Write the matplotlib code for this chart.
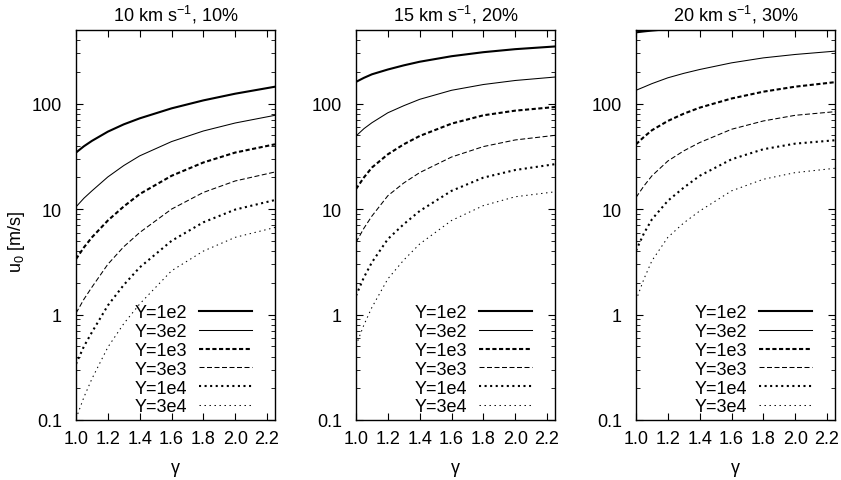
import numpy as np
import matplotlib.pyplot as plt
from matplotlib.ticker import FixedLocator, FuncFormatter, LogLocator, NullFormatter

plt.rcParams.update({'font.family': ['Liberation Sans', 'DejaVu Sans'],
                     'mathtext.fontset': 'custom',
                     'mathtext.rm': 'Liberation Sans',
                     'mathtext.it': 'Liberation Sans:italic',
                     'font.size': 13,
                     'lines.scale_dashes': False,
                     'axes.linewidth': 1.0,
                     'xtick.direction': 'in',
                     'ytick.direction': 'in',
                     'xtick.top': True,
                     'ytick.right': True,
                     'xtick.major.size': 5,
                     'ytick.major.size': 5,
                     'ytick.minor.size': 3,
                     'xtick.major.pad': 7,
                     'ytick.major.pad': 10})

gamma = [1.0, 1.05, 1.1, 1.2, 1.3, 1.4, 1.6, 1.8, 2.0, 2.25]
gamma_top = [1.0, 1.05, 1.1, 1.2]   # Y=1e2 at 20 km/s leaves the frame early

labels = ['Y=1e2', 'Y=3e2', 'Y=1e3', 'Y=3e3', 'Y=1e4', 'Y=3e4']
titles = [r'10 km s$^{-1}$, 10%', r'15 km s$^{-1}$, 20%', r'20 km s$^{-1}$, 30%']

# u0 [m/s] per panel, one row per Y
u0_10 = [
    [34.4, 39.5, 44.4, 54.3, 63.7, 72.6, 90.3, 107.5, 124.4, 144.9],
    [10.5, 12.7, 14.9, 20.2, 25.9, 32.0, 43.7, 55.1, 65.6, 77.6],
    [3.36, 4.34, 5.4, 7.8, 10.6, 13.9, 20.7, 27.7, 34.4, 41.2],
    [1.03, 1.40, 1.82, 3.0, 4.4, 6.0, 10.0, 14.4, 18.5, 22.5],
    [0.34, 0.50, 0.68, 1.22, 1.91, 2.8, 5.0, 7.5, 9.9, 12.2],
    [0.103, 0.165, 0.246, 0.49, 0.82, 1.26, 2.6, 4.0, 5.4, 6.7],
]
u0_15 = [
    [161, 176, 190, 211, 231, 250, 282, 308, 329, 349],
    [49.4, 58, 66, 82, 95.7, 110, 134, 152, 166, 179],
    [15.5, 20, 24.8, 33.1, 41.2, 49.4, 64.7, 77.6, 85.9, 93],
    [4.84, 6.6, 8.6, 13.4, 17.7, 22.2, 31.2, 39.2, 45.3, 50.1],
    [1.51, 2.26, 3.13, 5.2, 7.2, 9.6, 14.9, 19.9, 23.5, 26.7],
    [0.51, 0.80, 1.17, 2.18, 3.29, 4.67, 7.8, 10.8, 13.1, 14.6],
]
u0_20 = [
    [475, 485, 494, 510],
    [134, 144, 155, 176, 194, 211, 244, 272, 293, 315],
    [41.2, 48.4, 56, 68.6, 80.4, 91.7, 112, 130, 145, 160],
    [12.9, 16.6, 20.7, 28.6, 35.7, 42.8, 57.2, 68.6, 77.6, 84],
    [4.04, 5.9, 8.0, 12.0, 16.0, 20.7, 29.7, 37, 41.8, 45],
    [1.36, 2.18, 3.24, 5.4, 7.4, 9.6, 14.9, 19.2, 22.2, 24.4],
]

styles = [dict(lw=1.5, ls='-'),
          dict(lw=0.75, ls='-'),
          dict(lw=1.5, ls=(0, (3.0, 1.8))),
          dict(lw=0.75, ls=(0, (3.6, 1.8))),
          dict(lw=1.5, ls=(0, (1.5, 2.5))),
          dict(lw=0.75, ls=(0, (1.0, 2.6)))]

fig = plt.figure(figsize=(8.41, 4.81), dpi=100)
lefts = [76, 356, 636]

for i, data in enumerate([u0_10, u0_15, u0_20]):
    ax = fig.add_axes([lefts[i] / 841, 60 / 481, 199 / 841, 390 / 481])
    for j, u in enumerate(data):
        x = gamma if len(u) == len(gamma) else gamma_top
        ax.plot(x, u, color='black', label=labels[j], **styles[j])
    ax.set_yscale('log')
    ax.set_xlim(1.0, 2.25)
    ax.set_ylim(0.1, 500)
    ax.xaxis.set_major_locator(FixedLocator([1.0, 1.2, 1.4, 1.6, 1.8, 2.0, 2.2]))
    ax.xaxis.set_major_formatter(FuncFormatter(lambda v, p: '%.1f' % v))
    ax.yaxis.set_major_locator(FixedLocator([0.1, 1, 10, 100]))
    ax.yaxis.set_major_formatter(FuncFormatter(lambda v, p: '%g' % v))
    ax.yaxis.set_minor_locator(LogLocator(subs=np.arange(2, 10)))
    ax.yaxis.set_minor_formatter(NullFormatter())
    ax.set_title(titles[i], fontsize=13, pad=7)
    ax.set_xlabel('γ', labelpad=9)
    if i == 0:
        ax.set_ylabel('u$_0$ [m/s]', labelpad=3.5, y=0.46)
    ax.legend(loc='lower right', bbox_to_anchor=(0.885, 0.012), frameon=False,
              markerfirst=False, borderpad=0, borderaxespad=0,
              handlelength=2.93, handletextpad=0.66, labelspacing=0.1,
              fontsize=13)

fig.savefig('out.png', dpi=100)
